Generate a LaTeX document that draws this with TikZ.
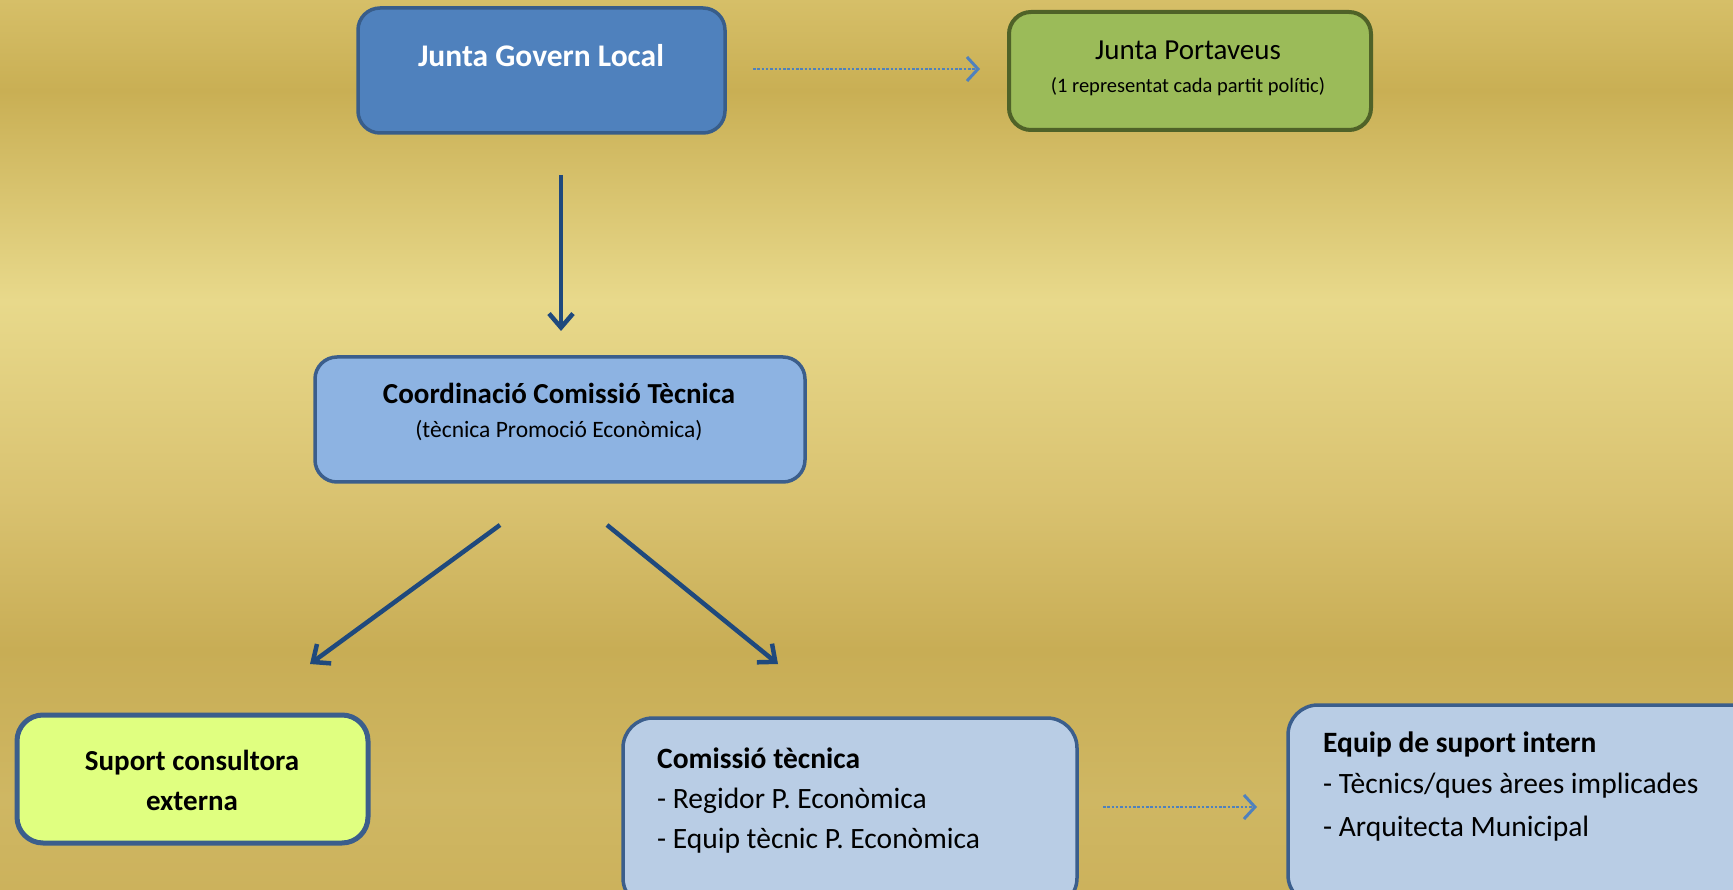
\documentclass[tikz,border=0pt]{standalone}
\usepackage{fontspec}
\setmainfont{Carlito}
\usetikzlibrary{arrows.meta}
\definecolor{bgA}{HTML}{D6BF68}
\definecolor{bgB}{HTML}{C9AF54}
\definecolor{bgC}{HTML}{E8D98B}
\definecolor{bgD}{HTML}{D9C270}
\definecolor{bgE}{HTML}{C8AD55}
\definecolor{bgF}{HTML}{CFB763}
\definecolor{bgG}{HTML}{CCB25C}
\definecolor{jglfill}{HTML}{4F81BD}
\definecolor{jglborder}{HTML}{385D8A}
\definecolor{jpfill}{HTML}{9BBB59}
\definecolor{jpborder}{HTML}{4F6228}
\definecolor{coordfill}{HTML}{8DB3E2}
\definecolor{boxborder}{HTML}{3B5E8C}
\definecolor{supfill}{HTML}{E0FF80}
\definecolor{lightfill}{HTML}{B9CDE5}
\definecolor{arrowblue}{HTML}{1F497D}
\definecolor{dotblue}{HTML}{4F81BD}
\pgfdeclareverticalshading{bgshade}{100bp}{color(0bp)=(bgG); color(25bp)=(bgG); color(30.1bp)=(bgF); color(38.5bp)=(bgE); color(46.9bp)=(bgD); color(58.1bp)=(bgC); color(69.9bp)=(bgB); color(75bp)=(bgA); color(100bp)=(bgA)}
\begin{document}
\begin{tikzpicture}[x=1pt,y=-1pt,
  box/.style={draw=boxborder, rounded corners=22pt, inner sep=0pt, line width=3.5pt},
  conn/.style={line width=4.5pt, draw=arrowblue, -{Straight Barb[length=14pt,width=24pt]}},
  dotconn/.style={line width=2.5pt, draw=dotblue, dash pattern=on 2.5pt off 1.8pt, -{Straight Barb[length=11pt,width=24pt,line width=3pt]}},
  txt/.style={inner sep=0pt, text=black}]
\path[use as bounding box] (0,0) rectangle (1733,890);
\clip (0,0) rectangle (1733,890);
\shade[shading=bgshade] (0,0) rectangle (1733,890);

% boxes
\node[box, fill=jglfill, draw=jglborder, minimum width=367pt, minimum height=125pt] (jgl) at (541.5,70.5) {};
\node[box, fill=jpfill, draw=jpborder, line width=4pt, minimum width=362pt, minimum height=118pt] (jp) at (1190,71) {};
\node[box, fill=coordfill, minimum width=490pt, minimum height=125pt] (coord) at (560,419.5) {};
\node[box, fill=supfill, line width=5pt, rounded corners=26pt, minimum width=351pt, minimum height=128pt] (sup) at (192.5,779) {};
\node[box, fill=lightfill, rounded corners=30pt, minimum width=454pt, minimum height=190pt] (com) at (850,813) {};
\node[box, fill=lightfill, rounded corners=30pt, minimum width=480pt, minimum height=200pt] (equip) at (1528,805) {};

% texts
\node[txt, anchor=base, text=white, font=\fontsize{31.5}{36}\selectfont\bfseries] (jglt) at (541,67) {Junta Govern Local};
\node[txt, anchor=base, font=\fontsize{29}{34}\selectfont] (jpt1) at (1188,60) {Junta Portaveus};
\node[txt, anchor=base, font=\fontsize{20.5}{24}\selectfont] (jpt2) at (1188,93) {(1 representat cada partit polític)};
\node[txt, anchor=base, font=\fontsize{29}{34}\selectfont\bfseries] (coordt1) at (559,404) {Coordinació Comissió Tècnica};
\node[txt, anchor=base, font=\fontsize{23.5}{28}\selectfont] (coordt2) at (559,438) {(tècnica Promoció Econòmica)};
\node[txt, anchor=base, font=\fontsize{29}{34}\selectfont\bfseries] (supt1) at (192,770) {Suport consultora};
\node[txt, anchor=base, font=\fontsize{29}{34}\selectfont\bfseries] (supt2) at (192,810) {externa};
\node[txt, anchor=base west, font=\fontsize{29.5}{34}\selectfont\bfseries] (comt1) at (657,768) {Comissió tècnica};
\node[txt, anchor=base west, font=\fontsize{29.5}{34}\selectfont] (comt2) at (657,808) {- Regidor P. Econòmica};
\node[txt, anchor=base west, font=\fontsize{29.5}{34}\selectfont] (comt3) at (657,848) {- Equip tècnic P. Econòmica};
\node[txt, anchor=base west, font=\fontsize{29.5}{34}\selectfont\bfseries] (eqt1) at (1323,752) {Equip de suport intern};
\node[txt, anchor=base west, font=\fontsize{29.5}{34}\selectfont] (eqt2) at (1323,793) {- Tècnics/ques àrees implicades};
\node[txt, anchor=base west, font=\fontsize{29.5}{34}\selectfont] (eqt3) at (1323,836) {- Arquitecta Municipal};

% connector end points
\coordinate (a1s) at (753,69);
\coordinate (a1e) at (980,69);
\coordinate (a2s) at (561,175);
\coordinate (a2e) at (561,331);
\coordinate (a3s) at (500,525);
\coordinate (a3e) at (310,664);
\coordinate (a4s) at (607,525);
\coordinate (a4e) at (778,664);
\coordinate (a5s) at (1103,807);
\coordinate (a5e) at (1257,807);

% connectors
\draw[dotconn] (a1s) -- (a1e);
\draw[conn] (a2s) -- (a2e);
\draw[conn] (a3s) -- (a3e);
\draw[conn] (a4s) -- (a4e);
\draw[dotconn] (a5s) -- (a5e);
\end{tikzpicture}
\end{document}
